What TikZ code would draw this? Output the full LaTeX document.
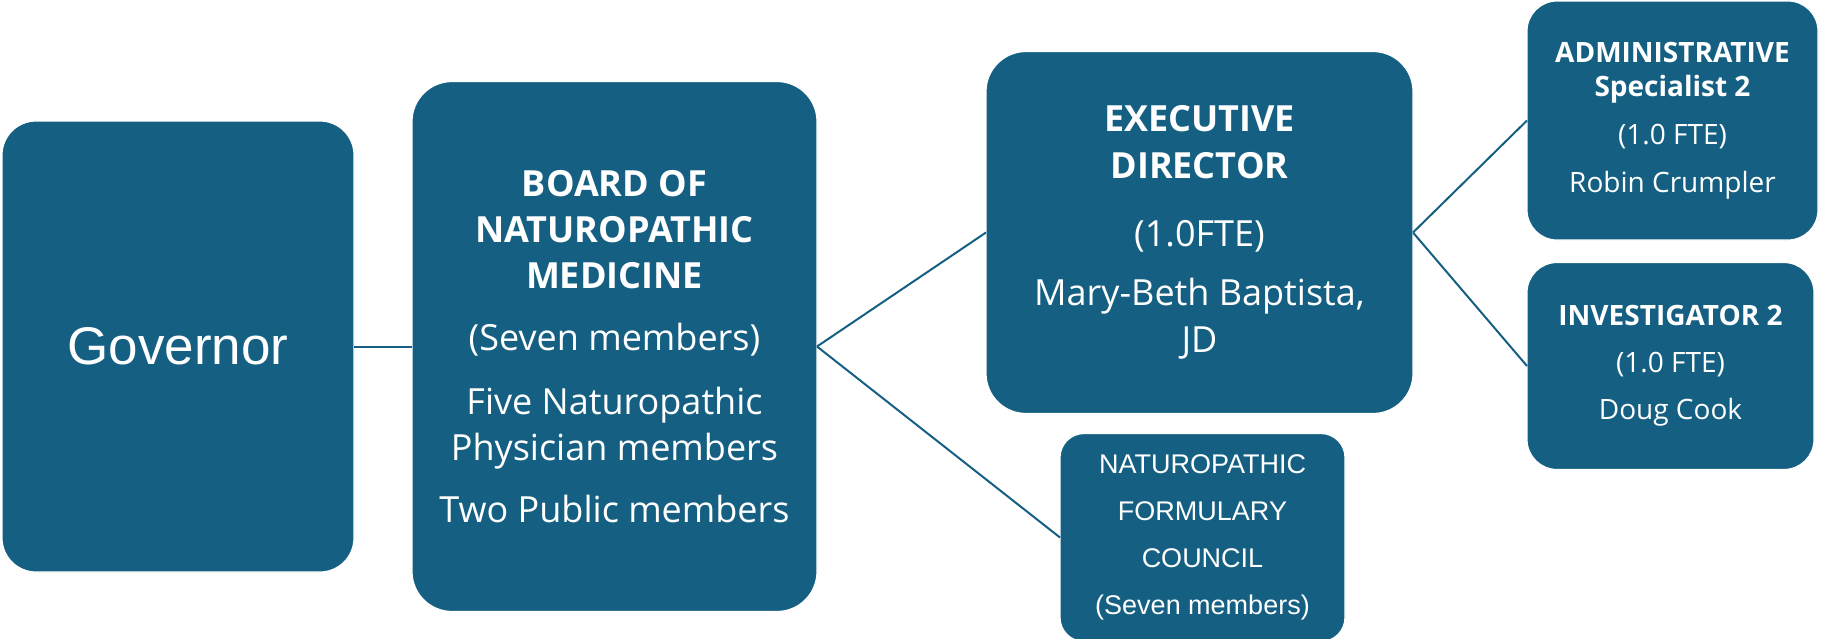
\documentclass[tikz,border=0pt]{standalone}
\usepackage{fontspec}
\setmainfont{Open Sans}
\newfontfamily\arialfont{Liberation Sans}
\usetikzlibrary{positioning}
\definecolor{orgblue}{HTML}{156082}

\begin{document}
\begin{tikzpicture}[x=0.5pt,y=-0.5pt,
   box/.style={fill=orgblue,draw=white,line width=0.6pt,rounded corners=17pt,text=white,
               align=center,inner sep=0pt,outer sep=0pt},
   link/.style={draw=orgblue,line width=1pt}]
  \useasboundingbox (0,0) rectangle (1821,638);
  \node[box,minimum width=176pt,minimum height=225.5pt,
        font=\arialfont\fontsize{26.5}{32}\selectfont] (gov) at (178,346.5) {Governor};
  \node[box,minimum width=202.5pt,minimum height=265pt,rounded corners=20pt,
        font=\fontsize{18}{23}\selectfont,right=29pt of gov] (brd)
       {\textbf{BOARD OF}\\\textbf{NATUROPATHIC}\\\textbf{MEDICINE}\\[8pt]
        (Seven members)\\[9pt]Five Naturopathic\\Physician members\\[8pt]Two Public members};
  \node[box,minimum width=213.5pt,minimum height=181pt,rounded corners=20pt,
        font=\fontsize{18}{23.5}\selectfont,right=84.5pt of brd,yshift=57pt] (ed)
       {\textbf{EXECUTIVE}\\\textbf{DIRECTOR}\\[10.5pt](1.0FTE)\\[6pt]Mary-Beth Baptista,\\JD};
  \node[box,minimum width=142.5pt,minimum height=104pt,rounded corners=12pt,
        font=\arialfont\fontsize{13.5}{23.5}\selectfont,right=121.5pt of brd,yshift=-95.5pt] (nfc)
       {NATUROPATHIC\\FORMULARY\\COUNCIL\\(Seven members)};
  \node[box,minimum width=145.5pt,minimum height=119.5pt,rounded corners=15pt,
        font=\fontsize{14}{17}\selectfont,right=57pt of ed,yshift=56pt] (adm)
       {\textbf{ADMINISTRATIVE}\\\textbf{Specialist 2}\\[7pt](1.0 FTE)\\[7pt]Robin Crumpler};
  \node[box,minimum width=143.5pt,minimum height=103.5pt,rounded corners=15pt,
        font=\fontsize{14}{23.5}\selectfont,right=57pt of ed,yshift=-66.75pt] (inv)
       {\textbf{INVESTIGATOR 2}\\(1.0 FTE)\\Doug Cook};
  \draw[link] (gov) -- (brd);
  \draw[link] (brd.east) -- (ed.west);
  \draw[link] (brd.east) -- (nfc.west);
  \draw[link] (ed.east) -- (adm.west);
  \draw[link] (ed.east) -- (inv.west);
\end{tikzpicture}
\end{document}
